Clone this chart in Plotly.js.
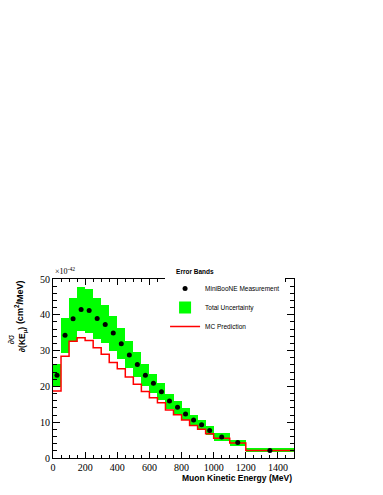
<!DOCTYPE html>
<html>
<head>
<meta charset="utf-8">
<script src="https://cdn.plot.ly/plotly-3.0.1.min.js"></script>
<style>
  html, body { margin: 0; padding: 0; background: #fff; }
  #chart { width: 383px; height: 495px; }
</style>
</head>
<body>
<div id="chart"></div>
<script>
// bin edges in MeV
var edges = [0, 50, 100, 150, 200, 250, 300, 350, 400, 450, 500, 550, 600, 650,
  700, 750, 800, 850, 900, 950, 1000, 1100, 1200, 1500];

// MiniBooNE measurement (x1e-42 cm^2/MeV)
var measured = [23.1, 34.3, 38.9, 41.5, 41.2, 39.0, 37.3, 34.9, 31.9, 28.8, 26.1,
  23.1, 20.9, 18.5, 15.9, 14.2, 12.3, 10.6, 9.3, 7.7, 5.9, 4.3, 2.1];

// total uncertainty band
var bandHigh = [26.2, 39.2, 44.7, 47.8, 47.3, 44.8, 42.6, 39.8, 36.2, 32.8, 29.5,
  26.2, 23.6, 20.9, 18.0, 16.0, 14.1, 12.1, 10.6, 9.0, 7.0, 5.0, 2.9];
var bandLow = [19.9, 29.3, 32.6, 35.4, 35.0, 33.2, 32.1, 30.0, 27.7, 25.1, 22.6,
  20.0, 18.2, 16.1, 13.8, 12.3, 10.6, 9.0, 7.8, 6.5, 4.7, 3.4, 1.6];

// MC prediction
var mcPred = [18.7, 28.4, 32.6, 33.6, 32.8, 30.8, 29.0, 26.7, 24.9, 22.6, 20.6,
  18.6, 16.8, 15.4, 13.4, 12.1, 10.6, 9.1, 8.0, 6.8, 5.5, 4.2, 2.1];

var centers = [], widths = [], heights = [];
for (var i = 0; i < edges.length - 1; i++) {
  centers.push((edges[i] + edges[i + 1]) / 2);
  widths.push(edges[i + 1] - edges[i]);
  heights.push(bandHigh[i] - bandLow[i]);
}

var band = {
  type: "bar",
  x: centers,
  y: heights,
  base: bandLow,
  width: widths,
  name: "Total Uncertainty",
  marker: { color: "#00ff00", line: { width: 0 } },
  legendrank: 2,
  hoverinfo: "skip"
};

var mc = {
  type: "scatter",
  mode: "lines",
  x: edges,
  y: mcPred.concat([mcPred[mcPred.length - 1]]),
  line: { shape: "hv", color: "#ff0000", width: 1.5 },
  name: "MC Prediction",
  legendrank: 3
};

var data = {
  type: "scatter",
  mode: "markers",
  x: centers,
  y: measured,
  marker: { color: "black", size: 5 },
  name: "MiniBooNE Measurement",
  legendrank: 1
};

var serif = "'Liberation Serif', 'Times New Roman', serif";
var sans = "'Liberation Sans', Arial, sans-serif";

var layout = {
  width: 383,
  height: 495,
  margin: { l: 53, r: 89, t: 279, b: 37 },
  paper_bgcolor: "white",
  plot_bgcolor: "white",
  barmode: "overlay",
  bargap: 0,
  showlegend: true,
  legend: {
    x: 0.465, y: 1.075, xanchor: "left", yanchor: "top",
    bgcolor: "white",
    font: { family: sans, size: 6.5, color: "black" },
    title: { text: "&nbsp;&nbsp;&nbsp;&nbsp;&nbsp;<b>Error Bands</b>", side: "top", font: { family: sans, size: 6.5 } },
    itemwidth: 30,
    tracegroupgap: 0
  },
  xaxis: {
    range: [0, 1500],
    dtick: 200,
    ticks: "inside",
    ticklen: 6,
    tickcolor: "black",
    minor: { dtick: 50, ticks: "inside", ticklen: 3, tickcolor: "black" },
    showline: true,
    linecolor: "black",
    linewidth: 1,
    mirror: "allticks",
    showgrid: false,
    zeroline: false,
    tickfont: { family: serif, size: 10, color: "black" }
  },
  yaxis: {
    range: [0, 50],
    dtick: 10,
    ticks: "inside",
    ticklen: 7,
    tickcolor: "black",
    minor: { dtick: 2, ticks: "inside", ticklen: 4, tickcolor: "black" },
    showline: true,
    linecolor: "black",
    linewidth: 1,
    mirror: "allticks",
    showgrid: false,
    zeroline: false,
    tickfont: { family: serif, size: 10, color: "black" }
  },
  annotations: [
    {
      text: "<b>Muon Kinetic Energy (MeV)</b>",
      xref: "paper", yref: "paper", x: 1, y: -0.112,
      xanchor: "right", yanchor: "middle", showarrow: false,
      font: { family: sans, size: 8.5, color: "black" }
    },
    {
      text: "×10<sup>-42</sup>",
      xref: "paper", yref: "paper", x: 0, y: 1.005,
      xanchor: "left", yanchor: "bottom", showarrow: false,
      font: { family: serif, size: 8, color: "black" }
    },
    {
      text: "<b>(cm<sup>2</sup>/MeV)</b>",
      xref: "paper", yref: "paper", x: -0.141, y: 1.005,
      xanchor: "center", yanchor: "top", textangle: -90, showarrow: false,
      font: { family: sans, size: 9, color: "black" }
    },
    {
      text: "∂σ<br><b>∂(KE<sub>μ</sub>)</b>",
      xref: "paper", yref: "paper", x: -0.149, y: 0.74,
      xanchor: "center", yanchor: "top", textangle: -90, showarrow: false,
      font: { family: sans, size: 8.5, color: "black" }
    }
  ]
};

Plotly.newPlot("chart", [band, mc, data], layout, { displayModeBar: false, staticPlot: true });
</script>
</body>
</html>
